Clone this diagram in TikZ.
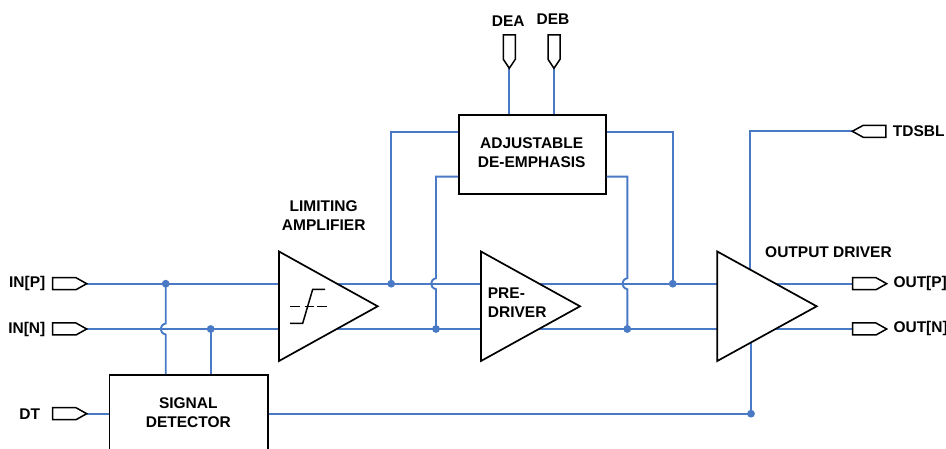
\documentclass[tikz,border=0pt]{standalone}
\usepackage{fontspec}
\setmainfont{Liberation Sans}
\definecolor{wire}{HTML}{4A7AC6}
\tikzset{
  wireline/.style={draw=wire,line width=1.9pt,line join=miter},
  dotnode/.style={circle,fill=wire,inner sep=0pt,minimum size=7.8pt},
  outline/.style={draw=black,line width=1.7pt,line join=miter,fill=white},
  blockbox/.style={outline,rectangle,inner sep=0pt,anchor=north west},
  lab/.style={inner sep=0pt,font=\fontsize{15.5}{19}\selectfont\bfseries,align=center},
  labl/.style={lab,anchor=west,align=left},
  labr/.style={lab,anchor=east},
  portright/.pic={\draw[outline,line width=1.5pt] (0,0) -- (-10.7,-6) -- (-34,-6) -- (-34,6) -- (-10.7,6) -- cycle;},
  portleft/.pic={\draw[outline,line width=1.5pt] (0,0) -- (11,-6) -- (33.5,-6) -- (33.5,6) -- (11,6) -- cycle;},
  portdown/.pic={\draw[outline,line width=1.5pt] (0,0) -- (-6,-9) -- (-6,-33.3) -- (6,-33.3) -- (6,-9) -- cycle;}
}
\begin{document}
\begin{tikzpicture}[x=1pt,y=-1pt]
\useasboundingbox (0,0) rectangle (946,449);
\clip (0,0) rectangle (946,449);
% levels
\def\yp{283.7}\def\yn{329}\def\yd{413.7}
% amplifiers
\coordinate (a1t) at (279,251.5); \coordinate (a1b) at (279,361); \coordinate (a1o) at (377.7,306.3);
\coordinate (a2t) at (481,251.5); \coordinate (a2b) at (481,361); \coordinate (a2o) at (580,306.3);
\coordinate (a3t) at (717.3,251.5); \coordinate (a3b) at (717.3,361); \coordinate (a3o) at (816.7,306.3);
% ports tips
\coordinate (inp) at (86.7,\yp); \coordinate (inn) at (86.7,\yn); \coordinate (dt) at (86.7,\yd);
\coordinate (outp) at (886.7,\yp); \coordinate (outn) at (886.7,\yn);
\coordinate (outpb) at (853,\yp); \coordinate (outnb) at (853,\yn);
\coordinate (tds) at (852.3,131.3);
\coordinate (dea) at (509.3,68.3); \coordinate (deb) at (554,68.3);
% boxes
\node[blockbox,minimum width=158.3pt,minimum height=110pt] (sd) at (108.6,374) {};
\node[blockbox,minimum width=146.6pt,minimum height=79pt] (ad) at (458.2,114) {};
% junctions
\node[dotnode] (j1) at (165.7,\yp) {};
\node[dotnode] (j2) at (210.7,\yn) {};
\node[dotnode] (j3) at (391.2,\yp) {};
\node[dotnode] (j4) at (436,\yn) {};
\node[dotnode] (j5) at (627.3,\yn) {};
\node[dotnode] (j6) at (672.7,\yp) {};
\node[dotnode] (j7) at (751,\yd) {};
% wires
\path[wireline] (inp) -- (a1t |- inp);
\path[wireline] (inn) -- (a1t |- inn);
\path[wireline] (dt) -- (sd.west |- dt);
\path[wireline] (337,\yp) -- (a2t |- inp);
\path[wireline] (337,\yn) -- (a2t |- inn);
\path[wireline] (538.5,\yp) -- (a3t |- inp);
\path[wireline] (538.5,\yn) -- (a3t |- inn);
\path[wireline] (776,\yp) -- (outpb);
\path[wireline] (776,\yn) -- (outnb);
\path[wireline] (sd.east |- dt) -- (j7.center) -- (751,342.5);
\path[wireline] (tds) -- (750.3,131.3) -- (750.3,269.5);
\path[wireline] (j2.center) -- (j2 |- sd.north);
\path[wireline] (j1.center) -- (165.7,323.5) .. controls (159,325) and (159,333) .. (165.7,334.5) -- (165.7,0 |- sd.north);
\path[wireline] (j3.center) -- (391.2,131.7) -- (ad.west |- 0,131.7);
\path[wireline] (j6.center) -- (672.7,131.7) -- (ad.east |- 0,131.7);
\path[wireline] (j4.center) -- (436,289.2) .. controls (429.5,287.7) and (429.5,279.7) .. (436,278.2) -- (436,176.7) -- (ad.west |- 0,176.7);
\path[wireline] (j5.center) -- (627.3,289.2) .. controls (620.8,287.7) and (620.8,279.7) .. (627.3,278.2) -- (627.3,176.7) -- (ad.east |- 0,176.7);
\path[wireline] (dea) -- (dea |- ad.north);
\path[wireline] (deb) -- (deb |- ad.north);
% amplifier triangles
\draw[outline] (a1t) -- (a1o) -- (a1b) -- cycle;
\draw[outline] (a2t) -- (a2o) -- (a2b) -- cycle;
\draw[outline] (a3t) -- (a3o) -- (a3b) -- cycle;
% limiter symbol
\draw[line width=1.5pt] (290,323.3) -- (302.7,323.3) -- (312.7,289.3) -- (325,289.3);
\draw[line width=1.5pt] (290,306.3) -- (300,306.3) (304.5,306.3) -- (313.5,306.3) (317,306.3) -- (326.7,306.3);
% ports
\pic at (inp) {portright};
\pic at (inn) {portright};
\pic at (dt) {portright};
\pic at (outp) {portright};
\pic at (outn) {portright};
\pic at (tds) {portleft};
\pic at (dea) {portdown};
\pic at (deb) {portdown};
% labels
\node[labr] (linp) at (45.5,\yp) {IN[P]};
\node[labr] (linn) at (45.5,\yn) {IN[N]};
\node[labr] (ldt) at (40.2,\yd) {DT};
\node[lab] (lsd) at (188.3,412.6) {SIGNAL\\DETECTOR};
\node[lab] (lad) at (531.7,152.8) {ADJUSTABLE\\DE-EMPHASIS};
\node[lab] (lla) at (323.7,215.8) {LIMITING\\AMPLIFIER};
\node[labl] (lpd) at (487.7,303) {PRE-\\DRIVER};
\node[lab] (ldea) at (508.3,20.7) {DEA};
\node[lab] (ldeb) at (553,19) {DEB};
\node[labl] (ltd) at (892.7,131.3) {TDSBL};
\node[labl] (lod) at (765,251.7) {OUTPUT DRIVER};
\node[labl] (lop) at (893.3,283.5) {OUT[P]};
\node[labl] (lon) at (893.3,328.7) {OUT[N]};
\end{tikzpicture}
\end{document}
